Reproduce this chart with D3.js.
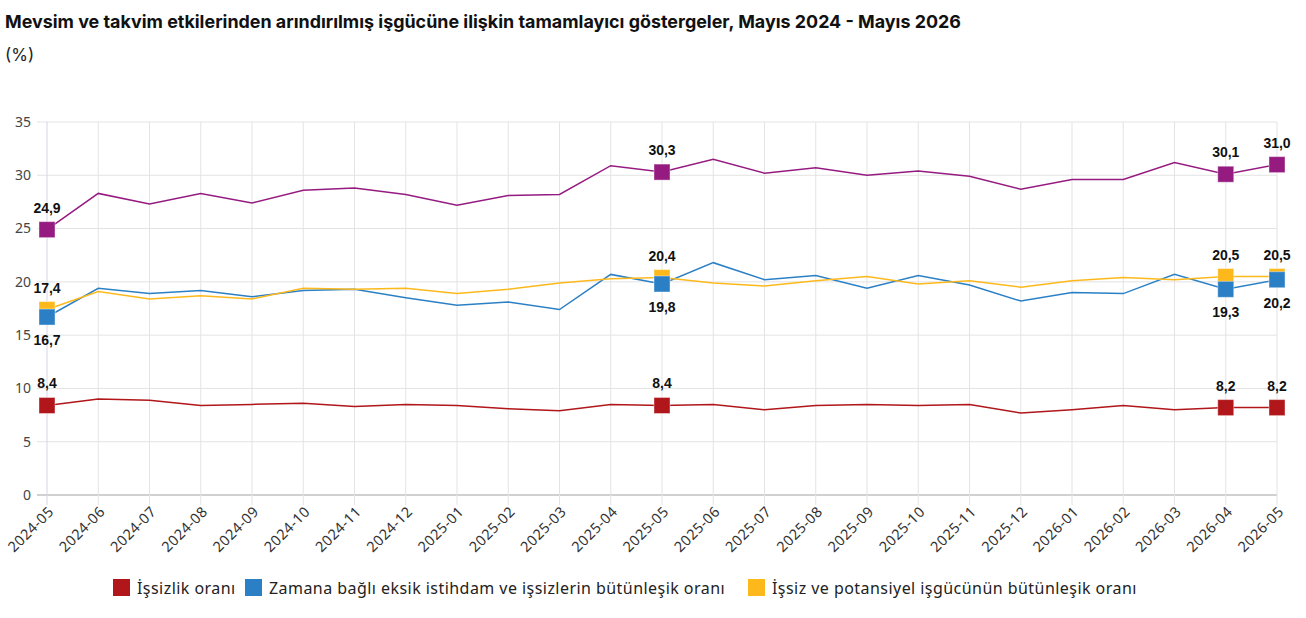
<!DOCTYPE html>
<html><head><meta charset="utf-8">
<script src="https://cdn.jsdelivr.net/npm/d3@7"></script>
<style>
body{margin:0;background:#fff;}
svg{display:block;}
</style></head>
<body>
<svg id="chart" width="1306" height="618"></svg>
<script>
const months = ["2024-05","2024-06","2024-07","2024-08","2024-09","2024-10","2024-11","2024-12","2025-01","2025-02","2025-03","2025-04","2025-05","2025-06","2025-07","2025-08","2025-09","2025-10","2025-11","2025-12","2026-01","2026-02","2026-03","2026-04","2026-05"];
const issizlik = [8.4,9.0,8.9,8.4,8.5,8.6,8.3,8.5,8.4,8.1,7.9,8.5,8.4,8.5,8.0,8.4,8.5,8.4,8.5,7.7,8.0,8.4,8.0,8.2,8.2];
const zamana = [16.7,19.4,18.9,19.2,18.6,19.2,19.3,18.5,17.8,18.1,17.4,20.7,19.8,21.8,20.2,20.6,19.4,20.6,19.7,18.2,19.0,18.9,20.7,19.3,20.2];
const potansiyel = [17.4,19.1,18.4,18.7,18.4,19.4,19.3,19.4,18.9,19.3,19.9,20.3,20.4,19.9,19.6,20.1,20.5,19.8,20.1,19.5,20.1,20.4,20.2,20.5,20.5];
const toplam = [24.9,28.3,27.3,28.3,27.4,28.6,28.8,28.2,27.2,28.1,28.2,30.9,30.3,31.5,30.2,30.7,30.0,30.4,29.9,28.7,29.6,29.6,31.2,30.1,31.0];
const yTicks = [0,5,10,15,20,25,30,35];
const markedIdx = [0,12,23,24];
const legendNames = ["İşsizlik oranı","Zamana bağlı eksik istihdam ve işsizlerin bütünleşik oranı","İşsiz ve potansiyel işgücünün bütünleşik oranı"];

const series = [
  {name:"toplam", values:toplam, color:"#951b81", labelPos:"above"},
  {name:"potansiyel", values:potansiyel, color:"#fdb91c", labelPos:"above"},
  {name:"zamana", values:zamana, color:"#2b80c5", labelPos:"below"},
  {name:"issizlik", values:issizlik, color:"#b0161a", labelPos:"above"}
];

const svg = d3.select("#chart");
const mLeft = 47, mRight = 1277, mTop = 122, mBottom = 495;
const x = d3.scalePoint().domain(months).range([mLeft, mRight]);
const y = d3.scaleLinear().domain([0,35]).range([mBottom, mTop]);

svg.append("text").attr("x",5).attr("y",28)
  .attr("font-family","Inter, 'Noto Sans', sans-serif").attr("font-weight",700)
  .attr("font-size",17.9).attr("fill","#111")
  .text("Mevsim ve takvim etkilerinden arındırılmış işgücüne ilişkin tamamlayıcı göstergeler, Mayıs 2024 - Mayıs 2026");
svg.append("text").attr("x",5).attr("y",61)
  .attr("font-family","Inter, 'Noto Sans', sans-serif")
  .attr("font-size",17).attr("fill","#222").text("(%)");

// grid
const g = svg.append("g");
g.selectAll(".hg").data(yTicks).join("line")
  .attr("x1",37).attr("x2",mRight).attr("y1",d=>y(d)).attr("y2",d=>y(d))
  .attr("stroke",d=>d===0?"#d0d0d0":"#e3e3e3").attr("stroke-width",d=>d===0?2:1);
g.selectAll(".vg").data(months).join("line")
  .attr("x1",d=>x(d)).attr("x2",d=>x(d)).attr("y1",mTop).attr("y2",mBottom+10)
  .attr("stroke",(d,i)=>i===0?"#d6d6e6":"#e3e3e3").attr("stroke-width",1);

// y labels
g.selectAll(".yl").data(yTicks).join("text")
  .attr("x",31).attr("y",d=>y(d)).attr("dy","0.35em").attr("text-anchor","end")
  .attr("font-family","'Noto Sans', sans-serif").attr("font-size",14).attr("fill","#444")
  .text(d=>d);

// x labels
g.selectAll(".xl").data(months).join("text")
  .attr("transform",d=>`translate(${x(d)+4},${mBottom+14}) rotate(-45)`)
  .attr("text-anchor","end").attr("dy","0.35em")
  .attr("font-family","'Noto Sans', sans-serif").attr("font-size",14.5)
  .attr("letter-spacing",0.4).attr("fill","#333")
  .text(d=>d);

// lines
const line = d3.line().x((d,i)=>x(months[i])).y(d=>y(d));
series.slice().reverse().forEach(s=>{
  svg.append("path").datum(s.values).attr("d",line)
    .attr("fill","none").attr("stroke",s.color).attr("stroke-width",1.5);
});
// markers: order so that blue on top of yellow
const markerOrder = ["issizlik","potansiyel","zamana","toplam"];
markerOrder.forEach(n=>{
  const s = series.find(t=>t.name===n);
  svg.append("g").selectAll("rect").data(markedIdx).join("rect")
    .attr("x",i=>x(months[i])-8).attr("y",i=>y(s.values[i])-8)
    .attr("width",16).attr("height",16).attr("fill",s.color)
    .attr("stroke","#ffffff").attr("stroke-opacity",0.4).attr("stroke-width",1);
});
// labels
series.forEach(s=>{
  svg.append("g").selectAll("text").data(markedIdx).join("text")
    .attr("x",i=>x(months[i])).attr("y",i=>y(s.values[i]) + (s.labelPos==="above"?-17:28))
    .attr("text-anchor","middle")
    .attr("font-family","'Liberation Sans', Arial, sans-serif").attr("font-weight",700)
    .attr("font-size",14).attr("fill","#111")
    .text(i=>s.values[i].toFixed(1).replace(".",","));
});

// legend
const legColors = ["#b0161a","#2b80c5","#fdb91c"];
const legX = [113,245,748];
legendNames.forEach((n,i)=>{
  svg.append("rect").attr("x",legX[i]).attr("y",579).attr("width",17).attr("height",17).attr("fill",legColors[i]);
  svg.append("text").attr("x",legX[i]+24).attr("y",588).attr("dy","0.35em")
    .attr("font-family","'Noto Sans', sans-serif").attr("font-size",16)
    .attr("letter-spacing",0.45).attr("fill","#222").text(n);
});
</script>
</body></html>
